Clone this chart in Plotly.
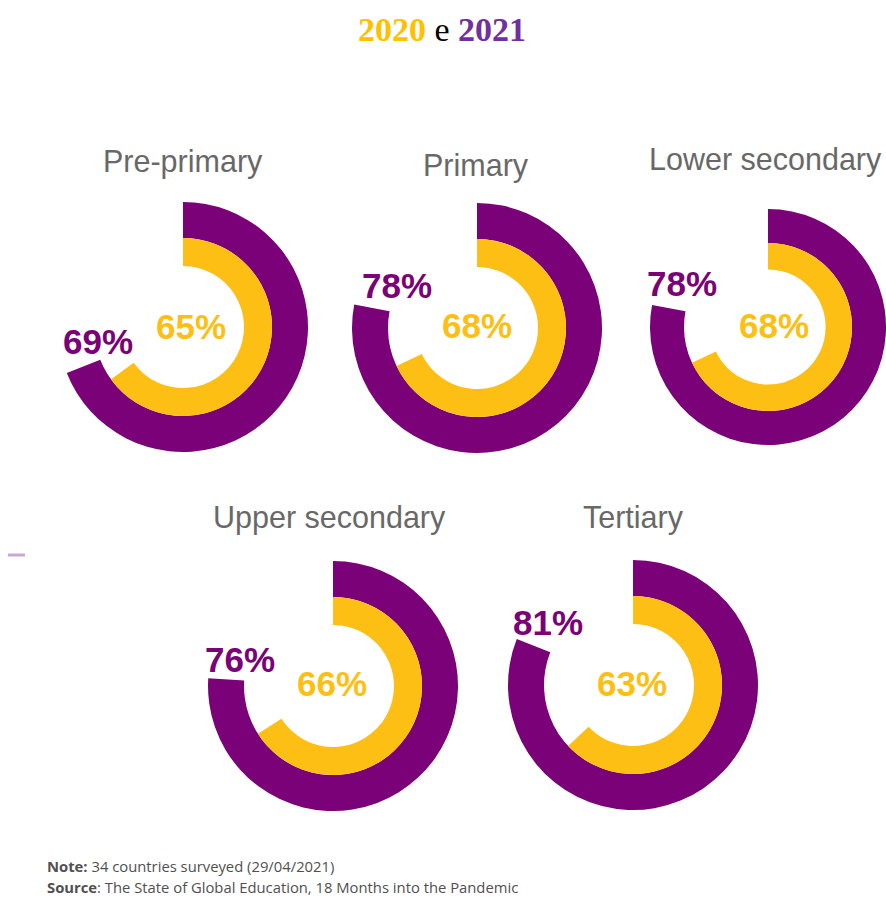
import plotly.graph_objects as go

W, H = 886, 898

# ---- data ----
levels = ["Pre-primary", "Primary", "Lower secondary", "Upper secondary", "Tertiary"]
pct_2021 = [69, 78, 78, 76, 81]   # outer ring (purple)
pct_2020 = [65, 68, 68, 66, 63]   # inner ring (yellow)

# ---- styling / layout geometry (pixels) ----
PURPLE = "#7a0177"
YELLOW = "#fdbf14"
centers = [(183, 327), (477, 328), (768, 327), (333, 686), (633, 685)]
scale = [1.0, 1.0, 118 / 125, 1.0, 1.0]
R_OUT, R_MID, R_HOLE = 125, 89, 61

title_pos = [(183, 161, "center"), (476, 165, "center"), (884, 160, "right"),
             (329, 517, "center"), (633, 517, "center")]
lab21_pos = [(98, 341), (397, 285), (682, 284), (240, 659), (548, 622)]
lab20_pos = [(191, 326), (477, 325), (774, 325), (332, 683), (632, 683)]


def dom(cx, cy, r):
    return dict(x=[(cx - r) / W, (cx + r) / W],
                y=[1 - (cy + r) / H, 1 - (cy - r) / H])


fig = go.Figure()
for i, name in enumerate(levels):
    cx, cy = centers[i]
    s = scale[i]
    ro, rm, rh = R_OUT * s, R_MID * s, R_HOLE * s
    fig.add_trace(go.Pie(
        values=[pct_2021[i], 100 - pct_2021[i]],
        labels=["2021", "rest"],
        marker=dict(colors=[PURPLE, "rgba(0,0,0,0)"], line=dict(width=0)),
        hole=rm / ro, sort=False, direction="clockwise", rotation=0,
        textinfo="none", hoverinfo="skip", domain=dom(cx, cy, ro),
        name=name + " 2021"))
    fig.add_trace(go.Pie(
        values=[pct_2020[i], 100 - pct_2020[i]],
        labels=["2020", "rest"],
        marker=dict(colors=[YELLOW, "rgba(0,0,0,0)"], line=dict(width=0)),
        hole=rh / rm, sort=False, direction="clockwise", rotation=0,
        textinfo="none", hoverinfo="skip", domain=dom(cx, cy, rm),
        name=name + " 2020"))

ann = []
for i, name in enumerate(levels):
    x, y, anc = title_pos[i]
    ann.append(dict(x=x / W, y=1 - y / H, xref="paper", yref="paper", text=name,
                    showarrow=False, xanchor=anc, yanchor="middle",
                    font=dict(family="Liberation Sans, Arial", size=30.5, color="#686868")))
    x, y = lab21_pos[i]
    ann.append(dict(x=x / W, y=1 - y / H, xref="paper", yref="paper",
                    text=f"<b>{pct_2021[i]}%</b>", showarrow=False,
                    xanchor="center", yanchor="middle",
                    font=dict(family="Liberation Sans, Arial", size=35, color=PURPLE)))
    x, y = lab20_pos[i]
    ann.append(dict(x=x / W, y=1 - y / H, xref="paper", yref="paper",
                    text=f"<b>{pct_2020[i]}%</b>", showarrow=False,
                    xanchor="center", yanchor="middle",
                    font=dict(family="Liberation Sans, Arial", size=35, color=YELLOW)))

# title
ann.append(dict(x=442 / W, y=1 - 30 / H, xref="paper", yref="paper",
                text="<b><span style='color:#ffc000'>2020</span></b> e "
                     "<b><span style='color:#7030a0'>2021</span></b>",
                showarrow=False, xanchor="center", yanchor="middle",
                font=dict(family="Liberation Serif, Times New Roman", size=34, color="#000000")))

# footnotes
ann.append(dict(x=45 / W, y=1 - 866 / H, xref="paper", yref="paper",
                text="<b>Note:</b> 34 countries surveyed (29/04/2021)",
                showarrow=False, xanchor="left", yanchor="middle",
                font=dict(family="Open Sans", size=14.8, color="#505050")))
ann.append(dict(x=45 / W, y=1 - 887 / H, xref="paper", yref="paper",
                text="<b>Source</b>: The State of Global Education, 18 Months into the Pandemic",
                showarrow=False, xanchor="left", yanchor="middle",
                font=dict(family="Open Sans", size=14.8, color="#505050")))

fig.update_layout(
    width=W, height=H, margin=dict(l=0, r=0, t=0, b=0),
    paper_bgcolor="white", plot_bgcolor="white", showlegend=False,
    annotations=ann,
    shapes=[dict(type="line", xref="paper", yref="paper",
                 x0=8 / W, x1=25 / W, y0=1 - 555 / H, y1=1 - 555 / H,
                 line=dict(color="#c9a6d6", width=3))],
)

fig.write_html("out.html")
